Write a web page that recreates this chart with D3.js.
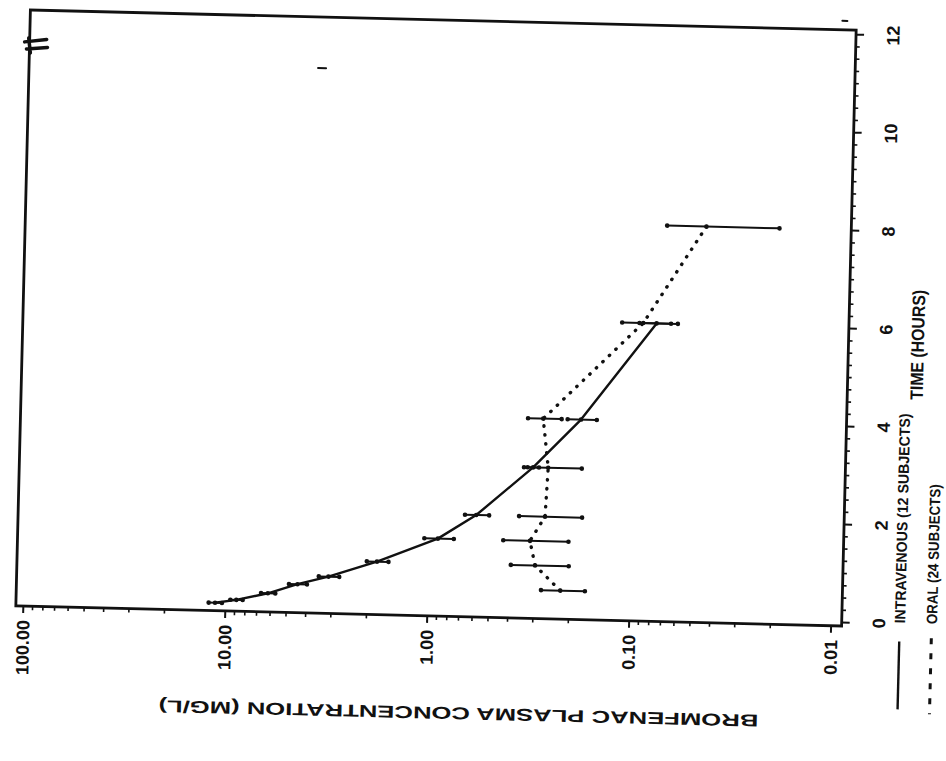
<!DOCTYPE html>
<html>
<head>
<meta charset="utf-8">
<script src="https://cdn.jsdelivr.net/npm/d3@7"></script>
<style>
  body { margin: 0; background: #fff; }
  svg { display: block; }
  text { font-family: "Liberation Sans", Arial, sans-serif; font-weight: bold; fill: #111; }
</style>
</head>
<body>
<svg id="chart" width="946" height="761"></svg>
<script>
// Bromfenac plasma concentration (mean ± SD) after intravenous and oral dosing

// axis ticks
const concTicks = [100, 10, 1, 0.1, 0.01];
const timeTicks = [0, 2, 4, 6, 8, 10, 12];

// intravenous group (12 subjects)
const ivTime = [0.08, 0.15, 0.3, 0.5, 0.67, 1, 1.5, 2, 3, 4, 6];
const ivMean = [11.2, 8.8, 6.15, 4.4, 3.1, 1.79, 0.90, 0.585, 0.31, 0.182, 0.079];
const ivSD   = [0.85, 0.62, 0.5, 0.45, 0.36, 0.22, 0.15, 0.08, 0.02, 0.03, 0.017];

// oral group (24 subjects)
const oralTime = [0.5, 1, 1.5, 2, 3, 4, 6, 8];
const oralMean = [0.22, 0.295, 0.315, 0.267, 0.261, 0.28, 0.092, 0.046];
const oralSD   = [0.054, 0.094, 0.112, 0.092, 0.083, 0.053, 0.025, 0.026];

// legend and axis titles
const legendLabels = ["INTRAVENOUS (12 SUBJECTS)", "ORAL (24 SUBJECTS)"];
const timeTitle = "TIME (HOURS)";
const concTitle = "BROMFENAC PLASMA CONCENTRATION (MG/L)";

const svg = d3.select("#chart");

// plot frame (the page is laid out sideways: time runs up, concentration runs right)
const frame = { left: 23, right: 849, top: 20, bottom: 616 };
const x = d3.scaleLog().domain([100, 0.01]).range([30, 838]);
const y = d3.scaleLinear().domain([0, 12]).range([612, 24]);

// the whole sheet sits slightly askew
const root = svg.append("g").attr("transform", "rotate(1.4,436,318)");

const ink = "#111";

// frame box
root.append("rect")
  .attr("x", frame.left).attr("y", frame.top)
  .attr("width", frame.right - frame.left)
  .attr("height", frame.bottom - frame.top)
  .attr("fill", "none").attr("stroke", ink).attr("stroke-width", 2.8);

// concentration axis (log) along the bottom
const minorConc = [];
[10, 1, 0.1, 0.01].forEach(d => { for (let k = 2; k <= 9; k++) minorConc.push(d * k); });

const concMinorAxis = root.append("g")
  .attr("transform", `translate(0,${frame.bottom})`)
  .call(d3.axisBottom(x).tickValues(minorConc).tickSize(4).tickFormat(""));
concMinorAxis.select(".domain").remove();
concMinorAxis.selectAll("line").attr("stroke", ink).attr("stroke-width", 1.6);

const concAxis = root.append("g")
  .attr("transform", `translate(0,${frame.bottom})`)
  .call(d3.axisBottom(x).tickValues(concTicks).tickSize(7).tickFormat(d3.format(".2f")));
concAxis.select(".domain").remove();
concAxis.selectAll("line").attr("stroke", ink).attr("stroke-width", 2);
concAxis.selectAll("text")
  .attr("transform", "rotate(-90)")
  .attr("x", -14).attr("y", 0).attr("dy", "0.36em")
  .attr("text-anchor", "end")
  .style("font-size", "18px")
  .attr("fill", ink);

// time axis along the right edge
const minorTime = d3.range(0, 12.01, 0.25).filter(t => t % 2 !== 0);
const timeMinorAxis = root.append("g")
  .attr("transform", `translate(${frame.right},0)`)
  .call(d3.axisRight(y).tickValues(minorTime).tickSize(4).tickFormat(""));
timeMinorAxis.select(".domain").remove();
timeMinorAxis.selectAll("line").attr("stroke", ink).attr("stroke-width", 1.6);

const timeAxis = root.append("g")
  .attr("transform", `translate(${frame.right},0)`)
  .call(d3.axisRight(y).tickValues(timeTicks).tickSize(8).tickFormat(d3.format("d")));
timeAxis.select(".domain").remove();
timeAxis.selectAll("line").attr("stroke", ink).attr("stroke-width", 2);
timeAxis.selectAll("text")
  .attr("x", null).attr("dy", null)
  .attr("transform", "translate(37,0) rotate(-90)")
  .attr("text-anchor", "middle")
  .attr("dy", "0.36em")
  .style("font-size", "18px")
  .attr("fill", ink);

// data series
const iv = ivTime.map((t, i) => ({ t, c: ivMean[i], sd: ivSD[i] }));
const oral = oralTime.map((t, i) => ({ t, c: oralMean[i], sd: oralSD[i] }));

const line = d3.line().x(d => x(d.c)).y(d => y(d.t));

// error bars with dotted ends
function errorBars(data, cls) {
  const gb = root.append("g").attr("class", cls);
  gb.selectAll("line").data(data).join("line")
    .attr("x1", d => x(d.c + d.sd)).attr("x2", d => x(d.c - d.sd))
    .attr("y1", d => y(d.t)).attr("y2", d => y(d.t))
    .attr("stroke", ink).attr("stroke-width", 2);
  const ends = data.flatMap(d => [
    { t: d.t, c: d.c + d.sd }, { t: d.t, c: d.c - d.sd }, { t: d.t, c: d.c }
  ]);
  gb.selectAll("circle").data(ends).join("circle")
    .attr("cx", d => x(d.c)).attr("cy", d => y(d.t)).attr("r", 2.3)
    .attr("fill", ink);
}
errorBars(oral, "oral-bars");
errorBars(iv, "iv-bars");

root.append("path").datum(oral)
  .attr("d", line)
  .attr("fill", "none").attr("stroke", ink)
  .attr("stroke-width", 3.4).attr("stroke-linecap", "round")
  .attr("stroke-dasharray", "0.4 8.6");

root.append("path").datum(iv)
  .attr("d", line)
  .attr("fill", "none").attr("stroke", ink)
  .attr("stroke-width", 2.4).attr("stroke-linejoin", "round");

// legend (reads upward, sample line below the text)
const legend = root.append("g");
legend.append("line")
  .attr("x1", 907).attr("x2", 907).attr("y1", 630).attr("y2", 698)
  .attr("stroke", ink).attr("stroke-width", 2.4);
legend.append("line")
  .attr("x1", 939).attr("x2", 939).attr("y1", 626).attr("y2", 702)
  .attr("stroke", ink).attr("stroke-width", 3).attr("stroke-dasharray", "6 9");

legend.append("text")
  .attr("transform", "translate(907,612) rotate(-90)")
  .attr("dy", "0.36em")
  .attr("textLength", 210).attr("lengthAdjust", "spacingAndGlyphs")
  .style("font-size", "15px")
  .text(legendLabels[0]);
legend.append("text")
  .attr("transform", "translate(939,612) rotate(-90)")
  .attr("dy", "0.36em")
  .attr("textLength", 140).attr("lengthAdjust", "spacingAndGlyphs")
  .style("font-size", "15px")
  .text(legendLabels[1]);

legend.append("text")
  .attr("transform", "translate(918,388) rotate(-90)")
  .attr("dy", "0.36em")
  .attr("textLength", 110).attr("lengthAdjust", "spacingAndGlyphs")
  .style("font-size", "18px")
  .text(timeTitle);

// concentration title, upside down under the axis
root.append("text")
  .attr("transform", "translate(468,713) rotate(180)")
  .attr("text-anchor", "middle")
  .attr("dy", "0.36em")
  .attr("textLength", 600).attr("lengthAdjust", "spacingAndGlyphs")
  .style("font-size", "17px")
  .text(concTitle);

// stray pen marks on the sheet
const marks = root.append("g").attr("stroke", ink).attr("stroke-linecap", "round");
marks.append("path").attr("d", "M18,52 L40,49 M20,59 L41,57 M22,48 L24,63").attr("stroke-width", 3.5);
marks.append("path").attr("d", "M312,71 L320,71").attr("stroke-width", 2);
marks.append("path").attr("d", "M835,11 L840,11").attr("stroke-width", 2);
</script>
</body>
</html>
